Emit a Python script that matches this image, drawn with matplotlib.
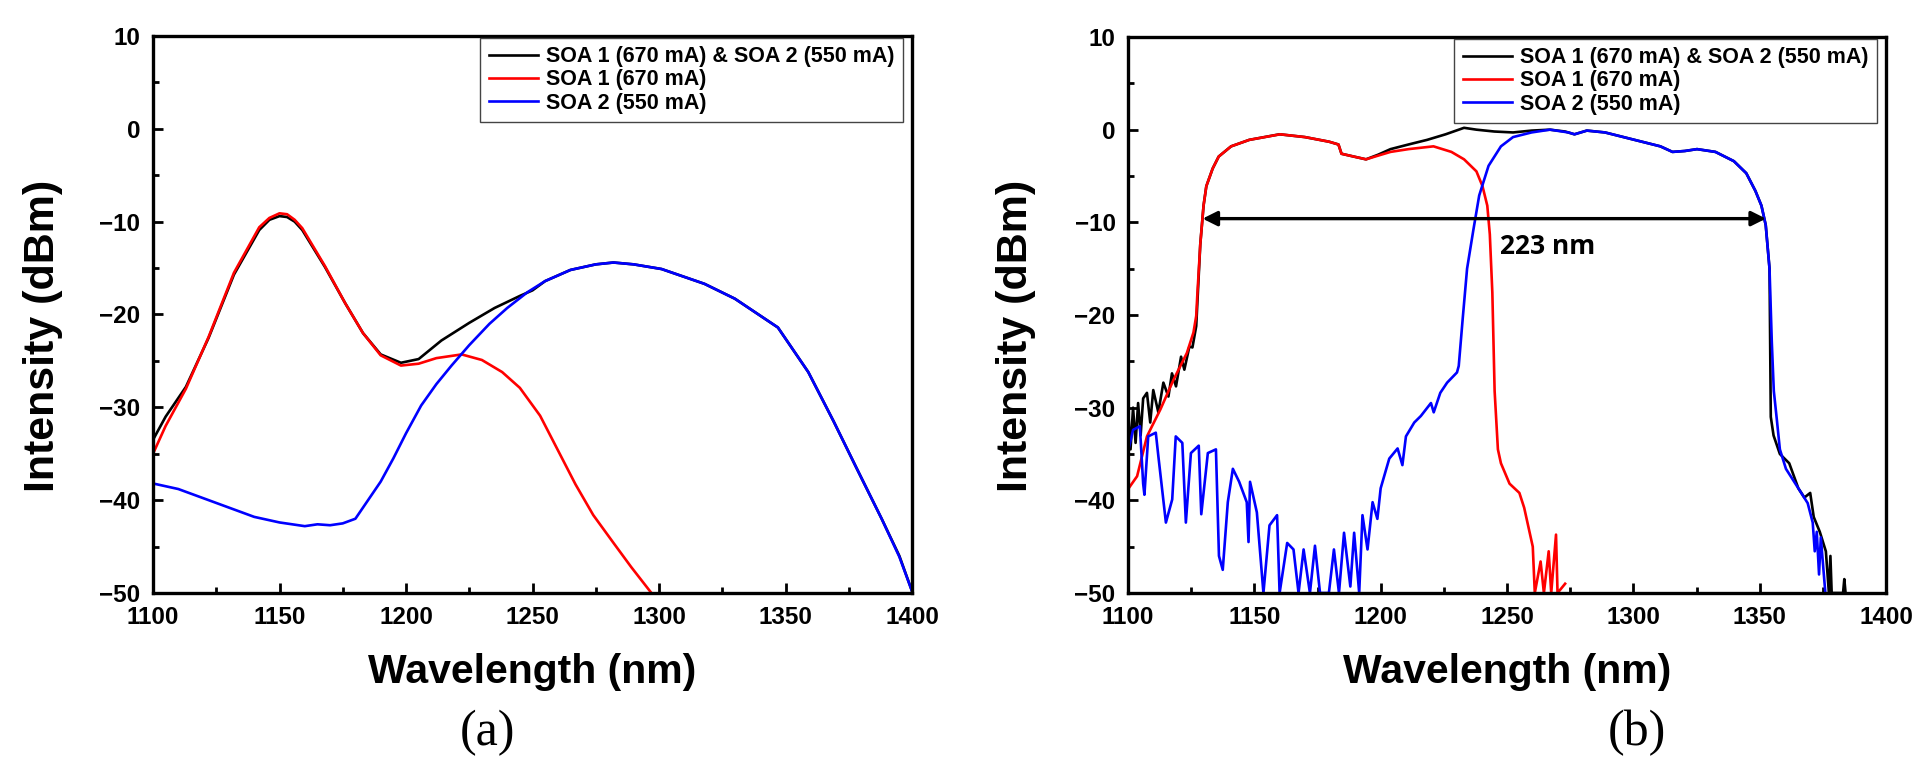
import matplotlib
matplotlib.use("Agg")
import matplotlib.pyplot as plt
from matplotlib.ticker import MultipleLocator

# --- DATA ---
LABELS = ["SOA 1 (670 mA) & SOA 2 (550 mA)", "SOA 1 (670 mA)", "SOA 2 (550 mA)"]
XTICKS = [1100, 1150, 1200, 1250, 1300, 1350, 1400]
YTICKS = [-50, -40, -30, -20, -10, 0, 10]

# (a) ASE spectra
black_a_x = [1100, 1105, 1113, 1122, 1132, 1142, 1146, 1150, 1153, 1156, 1159, 1168, 1176, 1183, 1190, 1198,
             1205, 1214, 1225, 1235, 1245, 1250, 1255, 1265, 1275, 1282, 1290, 1301, 1318, 1330, 1347, 1359,
             1369, 1378, 1388, 1395, 1400]
black_a_y = [-33.5, -31, -27.8, -22.5, -15.7, -10.9, -9.8, -9.4, -9.5, -10, -10.9, -14.9, -18.8, -22, -24.3, -25.2,
             -24.8, -22.8, -20.9, -19.3, -18, -17.4, -16.4, -15.2, -14.6, -14.4, -14.6, -15.1, -16.7, -18.3, -21.4, -26.2,
             -31.5, -36.5, -42, -46, -49.8]

red_a_x = [1100, 1105, 1113, 1122, 1132, 1142, 1146, 1150, 1153, 1156, 1159, 1168, 1176, 1183, 1190, 1198,
           1205, 1212, 1222, 1230, 1238, 1245, 1253, 1260, 1267, 1274, 1282, 1289, 1295, 1297]
red_a_y = [-35, -32, -28, -22.4, -15.5, -10.6, -9.6, -9.1, -9.2, -9.8, -10.7, -14.8, -18.8, -22, -24.4, -25.5,
           -25.3, -24.7, -24.3, -24.9, -26.2, -27.9, -30.9, -34.6, -38.3, -41.6, -44.6, -47.2, -49.3, -50]

blue_a_x = [1100, 1110, 1120, 1130, 1140, 1150, 1160, 1165, 1170, 1175, 1180, 1185, 1190, 1195, 1200, 1206,
            1212, 1218, 1225, 1233, 1240, 1248, 1255, 1265, 1275, 1282, 1290, 1301, 1318, 1330, 1347, 1359,
            1369, 1378, 1388, 1395, 1400]
blue_a_y = [-38.2, -38.8, -39.8, -40.8, -41.8, -42.4, -42.8, -42.6, -42.7, -42.5, -42, -40, -38, -35.5, -32.8, -29.8,
            -27.5, -25.5, -23.3, -21, -19.3, -17.6, -16.4, -15.2, -14.6, -14.4, -14.6, -15.1, -16.7, -18.3, -21.4, -26.2,
            -31.5, -36.5, -42, -46.1, -49.8]

# (b) filtered spectra
black_b_x = [1100, 1101, 1102, 1103, 1104, 1105, 1106, 1107.5, 1108.8, 1110,
             1112, 1114, 1116, 1117.4, 1119, 1121, 1122.3, 1124.3, 1125.5, 1127,
             1128.6, 1129.9, 1131, 1133.5, 1135.9, 1140.8, 1148, 1160, 1170, 1179.6,
             1183.3, 1184.5, 1189.3, 1194.2, 1199, 1203.9, 1211, 1218.4, 1225.7, 1233,
             1237.9, 1245, 1252.4, 1259.7, 1267, 1273, 1276.7, 1281.6, 1288.8, 1296.1,
             1303.4, 1310.7, 1315.5, 1320.4, 1325.2, 1332.5, 1339.8, 1344.7, 1348.3, 1350.7,
             1352.4, 1353.9, 1354.4, 1355.5, 1358, 1361.7, 1365.3, 1367.7, 1370, 1371.4,
             1373.8, 1376.2, 1377.4, 1378, 1378.5, 1383, 1383.5, 1384]
black_b_y = [-30, -34.5, -30, -33.8, -29.5, -33, -29, -28.4, -31.6, -28.1,
             -30.5, -27.3, -28.8, -26.3, -27.7, -24.5, -25.9, -23.4, -23.5, -21.2,
             -12.4, -8.2, -6.1, -4.2, -2.9, -1.8, -1.1, -0.5, -0.8, -1.3,
             -1.6, -2.6, -2.9, -3.2, -2.7, -2.1, -1.6, -1.1, -0.5, 0.2,
             0, -0.2, -0.3, -0.1, 0, -0.2, -0.5, -0.1, -0.3, -0.8,
             -1.3, -1.8, -2.4, -2.3, -2.1, -2.4, -3.4, -4.7, -6.6, -8.2,
             -10.3, -15, -31, -33, -35, -36, -38.7, -39.7, -39.2, -41.8,
             -43.4, -45.5, -50, -46, -50, -50, -48.5, -50]

red_b_x = [1100, 1103.6, 1107.5, 1112.8, 1118, 1123.3, 1125.9, 1127, 1127.4, 1128.6,
           1129.9, 1131, 1133.5, 1135.9, 1140.8, 1148, 1160.2, 1170, 1179.6, 1183.3,
           1184.5, 1189.3, 1194.2, 1199, 1203.9, 1211, 1220.9, 1228, 1233, 1237.9,
           1240.3, 1242.2, 1243.2, 1244.2, 1245.1, 1246.4, 1247.6, 1251, 1254.9, 1256.8,
           1258.5, 1260.2, 1261, 1263.3, 1264.6, 1266.5, 1267.5, 1269.4, 1270, 1273]
red_b_y = [-38.8, -37.4, -33.1, -30.2, -27, -24.1, -21.9, -20.1, -18, -12.4,
           -8.2, -6.1, -4.2, -2.9, -1.8, -1.1, -0.5, -0.8, -1.3, -1.6,
           -2.6, -2.9, -3.2, -2.8, -2.4, -2.1, -1.8, -2.4, -3.2, -4.5,
           -6.1, -8.2, -11.3, -17.6, -28.2, -34.5, -36, -38.2, -39.2, -40.8,
           -42.9, -45, -50, -46.6, -50, -45.5, -50, -43.7, -50, -49]

blue_b_x = [1100.2, 1102, 1104.7, 1106, 1106.5, 1108, 1111, 1112, 1115, 1117.5,
            1118.9, 1121.5, 1122.9, 1124.9, 1128, 1129, 1131.6, 1134.8, 1136, 1137.5,
            1139.5, 1141.5, 1144, 1147, 1147.7, 1148.3, 1151, 1153.6, 1156, 1159,
            1160, 1163, 1165.5, 1167.5, 1169.5, 1172, 1174, 1176, 1179.5, 1181.5,
            1183.5, 1185.5, 1188, 1189.5, 1191.5, 1192.8, 1194.8, 1196.8, 1198.7, 1200,
            1203.4, 1206.7, 1208.6, 1210, 1213.3, 1215.9, 1219.9, 1221, 1223.6, 1226.3,
            1230.2, 1230.9, 1232.5, 1234.2, 1236.7, 1239, 1242.7, 1247.6, 1252.4, 1259.7,
            1267, 1274.3, 1276.7, 1281.6, 1288.8, 1296.1, 1303.4, 1310.7, 1315.5, 1320.4,
            1325.2, 1332.5, 1339.8, 1344.7, 1348.3, 1350.7, 1352.4, 1353.9, 1354.8, 1355.6,
            1356.8, 1358, 1360.4, 1365.3, 1369, 1371, 1371.8, 1372.6, 1373.5, 1374.2,
            1376]
blue_b_y = [-34.5, -32.4, -32, -38.2, -39.4, -33.1, -32.7, -35.2, -42.4, -39.9,
            -33.1, -33.8, -42.4, -34.9, -34.1, -41.5, -34.9, -34.5, -46, -47.5,
            -40.2, -36.6, -38, -40.2, -44.5, -38, -41.3, -50, -42.7, -41.6,
            -50, -44.6, -45.3, -50, -45.3, -50, -44.9, -50, -50, -45.3,
            -50, -43.5, -49.3, -43.5, -50, -41.6, -45.3, -40.2, -42, -38.7,
            -35.5, -34.4, -36.2, -33.1, -31.6, -30.9, -29.5, -30.5, -28.4, -27.3,
            -26.2, -25.5, -20.3, -15, -10.8, -7.1, -3.9, -1.8, -0.8, -0.3,
            0, -0.3, -0.5, -0.1, -0.3, -0.8, -1.3, -1.8, -2.4, -2.3,
            -2.1, -2.4, -3.4, -4.7, -6.6, -8.2, -10.3, -15, -22.9, -28.2,
            -31.3, -34.5, -36.6, -38.7, -40.3, -42.4, -45.5, -43.4, -48, -44,
            -50]

# 3-dB bandwidth arrow in (b)
bw_start, bw_end, bw_level = 1129.5, 1352.5, -9.6
bw_text = "223 nm"

# --- FIGURE ---
plt.rcParams["font.family"] = ["Liberation Sans", "DejaVu Sans"]
plt.rcParams["font.weight"] = "bold"

fig = plt.figure(figsize=(19.2, 7.67), dpi=100)
W, H = 1920, 767

def px_axes(x0, x1, y0, y1):
    return fig.add_axes([x0 / W, 1 - y1 / H, (x1 - x0) / W, (y1 - y0) / H])

ax_a = px_axes(153, 912, 36, 593)
ax_b = px_axes(1128, 1886, 37, 593)

series = {
    ax_a: [(black_a_x, black_a_y), (red_a_x, red_a_y), (blue_a_x, blue_a_y)],
    ax_b: [(black_b_x, black_b_y), (red_b_x, red_b_y), (blue_b_x, blue_b_y)],
}
colors = ["#000000", "#ff0000", "#0000ff"]

for ax, data in series.items():
    for (x, y), c, lab in zip(data, colors, LABELS):
        ax.plot(x, y, color=c, lw=1.9, label=lab)
    ax.set_xlim(1100, 1400)
    ax.set_ylim(-50, 10)
    ax.set_xticks(XTICKS)
    ax.set_yticks(YTICKS)
    ax.xaxis.set_minor_locator(MultipleLocator(25))
    ax.yaxis.set_minor_locator(MultipleLocator(5))
    ax.tick_params(which="both", direction="in", top=False, right=False, width=2)
    ax.tick_params(which="major", length=7, labelsize=17.5, pad=9)
    ax.tick_params(which="minor", length=4)
    for lbl in ax.get_xticklabels() + ax.get_yticklabels():
        lbl.set_fontweight("bold")
    for sp in ax.spines.values():
        sp.set_linewidth(2.4)
    leg = ax.legend(loc="upper right", bbox_to_anchor=(0.988, 0.997), borderaxespad=0,
                    fontsize=15.5, handlelength=2.3, handletextpad=0.35, labelspacing=0.1,
                    borderpad=0.4, fancybox=False, framealpha=1, edgecolor="#444444")
    leg.get_frame().set_linewidth(1.0)
    for t in leg.get_texts():
        t.set_fontweight("bold")

ax_b.annotate("", xy=(bw_start, bw_level), xytext=(bw_end, bw_level),
              arrowprops=dict(arrowstyle="<|-|>", color="black", lw=2.4, mutation_scale=22,
                              shrinkA=0, shrinkB=0))
ax_b.text(1266, -12.6, bw_text, fontsize=19, fontweight="bold", family=["Open Sans", "DejaVu Sans"],
          ha="center", va="center")

# axis labels and panel tags, placed like the reference
for xc, yl_x, tag, tag_x in [(532, 43, "(a)", 487), (1507, 1016, "(b)", 1637)]:
    fig.text(xc / W, 1 - 672 / H, "Wavelength (nm)", fontsize=29.5, fontweight="bold",
             ha="center", va="center")
    fig.text(yl_x / W, 1 - 336 / H, "Intensity (dBm)", fontsize=31, fontweight="bold",
             rotation=90, ha="center", va="center")
    fig.text(tag_x / W, 1 - 733 / H, tag, fontsize=36, fontweight="normal",
             family=["Liberation Serif", "DejaVu Serif"], ha="center", va="center")

fig.savefig("out.png", dpi=100, facecolor="white")
